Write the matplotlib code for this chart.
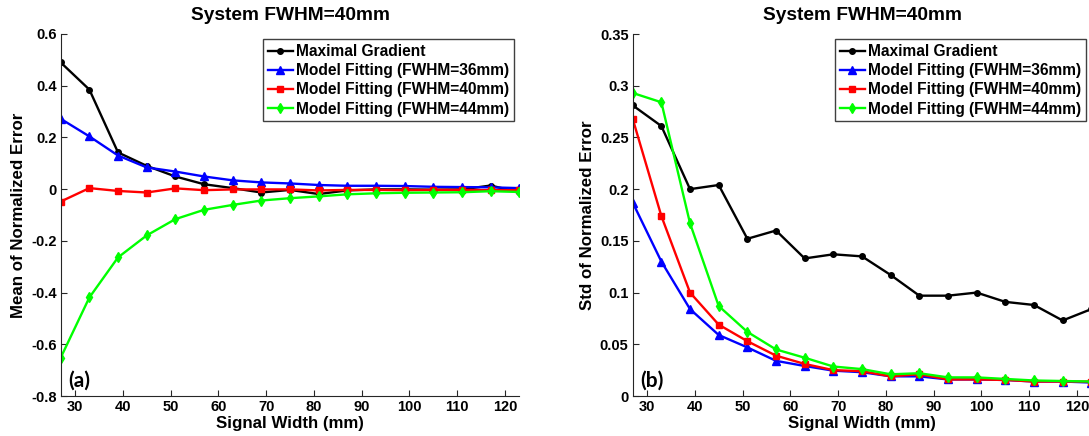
import matplotlib
matplotlib.use('Agg')
import matplotlib.pyplot as plt

plt.rcParams['font.family'] = ['Liberation Sans', 'DejaVu Sans']
plt.rcParams['font.weight'] = 'bold'

# signal width (mm)
width = [27, 33, 39, 45, 51, 57, 63, 69, 75, 81, 87, 93, 99, 105, 111, 117, 123]

# (a) mean of normalized error
mean_mg = [0.49, 0.385, 0.142, 0.09, 0.049, 0.019, 0.004, -0.013, -0.003, -0.019,
           -0.005, -0.001, -0.001, -0.002, -0.001, 0.014, -0.012]
mean_36 = [0.272, 0.204, 0.13, 0.084, 0.068, 0.049, 0.034, 0.026, 0.022, 0.016,
           0.013, 0.013, 0.012, 0.009, 0.008, 0.007, 0.004]
mean_40 = [-0.048, 0.004, -0.007, -0.013, 0.003, -0.004, -0.001, -0.001, -0.001, -0.005,
           -0.003, -0.003, -0.004, -0.003, -0.003, -0.004, -0.004]
mean_44 = [-0.652, -0.419, -0.264, -0.179, -0.116, -0.080, -0.061, -0.044, -0.035, -0.028,
           -0.020, -0.016, -0.014, -0.013, -0.012, -0.008, -0.011]

# (b) std of normalized error
std_mg = [0.281, 0.261, 0.200, 0.204, 0.152, 0.160, 0.133, 0.137, 0.135, 0.117,
          0.097, 0.097, 0.100, 0.091, 0.088, 0.073, 0.084]
std_36 = [0.187, 0.130, 0.084, 0.059, 0.047, 0.034, 0.029, 0.0245, 0.023, 0.019,
          0.019, 0.016, 0.016, 0.0155, 0.014, 0.014, 0.013]
std_40 = [0.268, 0.174, 0.100, 0.069, 0.053, 0.039, 0.031, 0.025, 0.024, 0.019,
          0.021, 0.016, 0.016, 0.0155, 0.014, 0.014, 0.014]
std_44 = [0.293, 0.284, 0.167, 0.087, 0.062, 0.045, 0.037, 0.0285, 0.026, 0.021,
          0.022, 0.018, 0.018, 0.0165, 0.015, 0.0145, 0.014]

labels = ['Maximal Gradient', 'Model Fitting (FWHM=36mm)',
          'Model Fitting (FWHM=40mm)', 'Model Fitting (FWHM=44mm)']
xticks = [30, 40, 50, 60, 70, 80, 90, 100, 110, 120]
yticks_a = [-0.8, -0.6, -0.4, -0.2, 0, 0.2, 0.4, 0.6]
yticklab_a = ['-0.8', '-0.6', '-0.4', '-0.2', '0', '0.2', '0.4', '0.6']
yticks_b = [0, 0.05, 0.1, 0.15, 0.2, 0.25, 0.3, 0.35]
yticklab_b = ['0', '0.05', '0.1', '0.15', '0.2', '0.25', '0.3', '0.35']

styles = [dict(color='k', marker='o', ms=4),
          dict(color='#0000ff', marker='^', ms=5.5),
          dict(color='#ff0000', marker='s', ms=4.5),
          dict(color='#00ff00', marker='d', ms=5)]

fig = plt.figure(figsize=(10.89, 4.36), dpi=100)
W, H = 1089.0, 436.0
ax1 = fig.add_axes([60.7 / W, 40 / H, 458.6 / W, 362 / H])
ax2 = fig.add_axes([632.7 / W, 40 / H, 458.6 / W, 362 / H])


def draw(ax, series, yticks, ylabs, ylim, ylabel, tag, ylab_x):
    for s, st, lab in zip(series, styles, labels):
        ax.plot(width, s, lw=1.7, mec=st['color'], label=lab, **st)
    ax.set_xlim(27, 123)
    ax.set_ylim(*ylim)
    ax.set_xticks(xticks)
    ax.set_yticks(yticks)
    ax.set_yticklabels(ylabs)
    ax.spines['top'].set_visible(False)
    ax.spines['right'].set_visible(False)
    for sp in ['left', 'bottom']:
        ax.spines[sp].set_linewidth(0.8)
        ax.spines[sp].set_color('#262626')
    ax.tick_params(direction='in', length=4, width=0.8, labelsize=10.5, pad=3,
                   colors='#262626', labelcolor='black')
    ax.text(0.5, 1.0 + 19 / 362, 'System FWHM=40mm', transform=ax.transAxes,
            ha='center', va='center', fontsize=13.8, fontweight='bold')
    ax.text(0.5, -27 / 362, 'Signal Width (mm)', transform=ax.transAxes,
            ha='center', va='center', fontsize=12.2, fontweight='bold')
    ax.text(ylab_x, 0.5, ylabel, transform=ax.transAxes, rotation=90,
            ha='center', va='center', fontsize=12.2, fontweight='bold')
    ax.text(8 / 458.6, 15 / 362, tag, transform=ax.transAxes, ha='left',
            va='center', fontsize=15, fontweight='bold', family=['Lato', 'DejaVu Sans'])
    leg = ax.legend(loc='upper right', bbox_to_anchor=(0.989, 0.985), borderaxespad=0,
                    fancybox=False, framealpha=1, edgecolor='#404040',
                    prop=dict(size=11.2, weight='bold'), handlelength=1.6,
                    handletextpad=0.25, labelspacing=0.27, borderpad=0.3)
    leg.get_frame().set_linewidth(1.0)


draw(ax1, [mean_mg, mean_36, mean_40, mean_44], yticks_a, yticklab_a, (-0.8, 0.6),
     'Mean of Normalized Error', '(a)', -42 / 458.6)
draw(ax2, [std_mg, std_36, std_40, std_44], yticks_b, yticklab_b, (0, 0.35),
     'Std of Normalized Error', '(b)', -45 / 458.6)

fig.savefig('out.png', dpi=100)
